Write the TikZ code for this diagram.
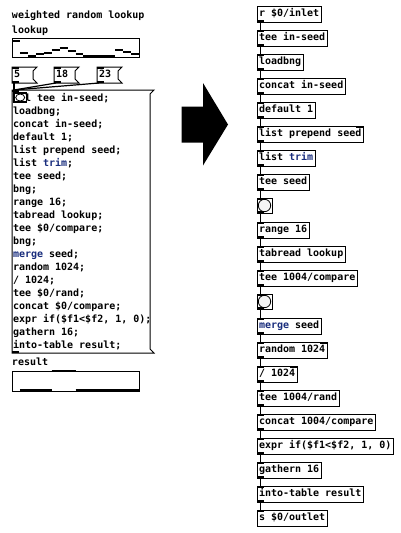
\documentclass[tikz,border=0pt]{standalone}
\usepackage{fontspec}
\setmonofont{DejaVu Sans Mono}
\usetikzlibrary{positioning}

\definecolor{pdblue}{RGB}{25,45,125}
\newcommand{\pdfont}{\ttfamily\bfseries\fontsize{10}{13}\selectfont}
% message box outline with the flag on its right side
\newcommand{\pdflag}[1]{\draw[line width=1pt] (#1.north west) -- ([xshift=4pt]#1.north east) -- ([yshift=-4pt]#1.north east) -- ([yshift=4pt]#1.south east) -- ([xshift=4pt]#1.south east) -- (#1.south west) -- cycle;}

\begin{document}
\begin{tikzpicture}[x=1pt,y=-1pt,
  every node/.append style={outer sep=0pt},
  obj/.style={draw, line width=1pt, font=\pdfont, inner xsep=2pt, inner ysep=0pt, minimum height=16pt, text height=7.5pt, text depth=2pt},
  bngbox/.style={draw, line width=1pt, minimum size=15pt, inner sep=0pt},
  msg/.style={font=\pdfont, inner xsep=2pt, inner ysep=0pt, minimum height=16pt, text height=7.5pt, text depth=2pt, anchor=north west},
  msgline/.style={font=\pdfont, inner sep=0pt, anchor=base west},
  tabbox/.style={draw, line width=1pt, minimum width=127pt, inner sep=0pt, anchor=north west},
  cord/.style={line width=1.2pt},
  tabbar/.style={line width=2pt},
]
\useasboundingbox (0,0) rectangle (400,533);

% left: the patch with one big message
\node[msgline] (title) at (12,18.5) {weighted random lookup};
\node[msgline] (lookuplbl) at (12,33) {lookup};
\node[tabbox, minimum height=19pt] (lookup) at (12,38) {};
\foreach \i/\v in {0/41,1/52.5,2/55.5,3/54,4/52.5,5/49.5,6/47.5,7/50.5,8/54,9/55.5,10/55.5,11/55.5,12/55.5,13/50,14/51.5,15/54}
  \draw[tabbar] (12+7.94*\i,\v) -- ++(7.94,0);

\node[msg, text width=17pt] (seedA) at (12,67) {5}; \pdflag{seedA}
\node[msg, text width=17pt] (seedB) at (54,67) {18}; \pdflag{seedB}
\node[msg, text width=17pt] (seedC) at (97,67) {23}; \pdflag{seedC}

\node[minimum width=138pt, minimum height=263pt, inner sep=0pt, anchor=north west] (seedmsg) at (12,90) {};
\pdflag{seedmsg}

\foreach \n in {seedA,seedB,seedC,seedmsg} {
  \fill (\n.north west) rectangle ++(7,2);
  \fill (\n.south west) rectangle ++(7,-2);
}
\foreach \n in {seedA,seedB,seedC}
  \draw[cord] ([xshift=2pt]\n.south west) -- ([xshift=2pt]seedmsg.north west);

\foreach \t [count=\k from 0] in {{\hphantom{xx}l tee in-seed;}, loadbng;, concat in-seed;, default 1;,
  list prepend seed;, {list {\color{pdblue}trim};}, tee seed;, bng;, range 16;, tabread lookup;,
  tee \$0/compare;, bng;, {{\color{pdblue}merge} seed;}, random 1024;, / 1024;, tee \$0/rand;,
  concat \$0/compare;, {expr if(\$f1<\$f2, 1, 0);}, gathern 16;, into-table result;}
  \node[msgline] (line\k) at (13,101.5+13*\k) {\t};

% stray bang over the first line
\draw[line width=1.4pt] (14,93) rectangle (26.5,102);
\draw[line width=0.8pt] (20.2,97.5) ellipse (4.5pt and 3.5pt);

\node[msgline] (resultlbl) at (12,365) {result};
\node[tabbox, minimum height=20pt] (result) at (12,371) {};
\foreach \i/\v in {1/390,2/390,3/390,4/390,5/371,6/371,7/371,8/390,9/390,10/390,11/390,12/390,13/390,14/390,15/390}
  \draw[tabbar] (12+7.94*\i,\v) -- ++(7.94,0);

% big arrow
\fill (181.5,106.5) -- (203,106.5) -- (203,83) -- (228,124.5) -- (203,165.5) -- (203,142.5) -- (181.5,142.5) -- cycle;

% right: the same as a chain of objects
\node[obj, anchor=north west] (rinlet) at (257,6) {r \$0/inlet};
\node[obj, below=8pt of rinlet.south west, anchor=north west] (teein) {tee in-seed};
\node[obj, below=8pt of teein.south west, anchor=north west] (loadbng) {loadbng};
\node[obj, below=8pt of loadbng.south west, anchor=north west] (concatin) {concat in-seed};
\node[obj, below=8pt of concatin.south west, anchor=north west] (default) {default 1};
\node[obj, below=8pt of default.south west, anchor=north west] (prepend) {list prepend seed};
\node[obj, below=8pt of prepend.south west, anchor=north west] (trim) {list {\color{pdblue}trim}};
\node[obj, below=8pt of trim.south west, anchor=north west] (teeseed) {tee seed};
\node[bngbox, below=8pt of teeseed.south west, anchor=north west] (bangA) {};
\node[obj, below=9pt of bangA.south west, anchor=north west] (range) {range 16};
\node[obj, below=8pt of range.south west, anchor=north west] (tabread) {tabread lookup};
\node[obj, below=8pt of tabread.south west, anchor=north west] (teecmp) {tee 1004/compare};
\node[bngbox, below=8pt of teecmp.south west, anchor=north west] (bangB) {};
\node[obj, below=9pt of bangB.south west, anchor=north west] (merge) {{\color{pdblue}merge} seed};
\node[obj, below=8pt of merge.south west, anchor=north west] (random) {random 1024};
\node[obj, below=8pt of random.south west, anchor=north west] (divide) {/ 1024};
\node[obj, below=8pt of divide.south west, anchor=north west] (teerand) {tee 1004/rand};
\node[obj, below=8pt of teerand.south west, anchor=north west] (concatcmp) {concat 1004/compare};
\node[obj, below=8pt of concatcmp.south west, anchor=north west] (expr) {expr if(\$f1<\$f2, 1, 0)};
\node[obj, below=8pt of expr.south west, anchor=north west] (gathern) {gathern 16};
\node[obj, below=8pt of gathern.south west, anchor=north west] (intotable) {into-table result};
\node[obj, below=8pt of intotable.south west, anchor=north west] (soutlet) {s \$0/outlet};

\foreach \n in {bangA,bangB}
  \draw[line width=0.8pt, fill=black!4] (\n.center) circle (6.2pt);

\foreach \n in {teein,loadbng,concatin,default,prepend,trim,teeseed,bangA,range,tabread,teecmp,bangB,merge,random,divide,teerand,concatcmp,expr,gathern,intotable,soutlet}
  \fill (\n.north west) rectangle ++(7,2);
\foreach \n in {prepend,random,divide}
  \fill (\n.north east) rectangle ++(-7,2);
\foreach \n in {rinlet,teein,loadbng,concatin,default,prepend,trim,teeseed,bangA,range,tabread,teecmp,bangB,merge,random,divide,teerand,concatcmp,expr,gathern,intotable}
  \fill (\n.south west) rectangle ++(7,-2);

\foreach \a/\b in {rinlet/teein, teein/loadbng, loadbng/concatin, concatin/default, default/prepend, prepend/trim, trim/teeseed, teeseed/bangA, bangA/range, range/tabread, tabread/teecmp, teecmp/bangB, bangB/merge, merge/random, random/divide, divide/teerand, teerand/concatcmp, concatcmp/expr, expr/gathern, gathern/intotable, intotable/soutlet}
  \draw[cord] ([xshift=3.5pt]\a.south west) -- ([xshift=3.5pt]\b.north west);
\end{tikzpicture}
\end{document}
